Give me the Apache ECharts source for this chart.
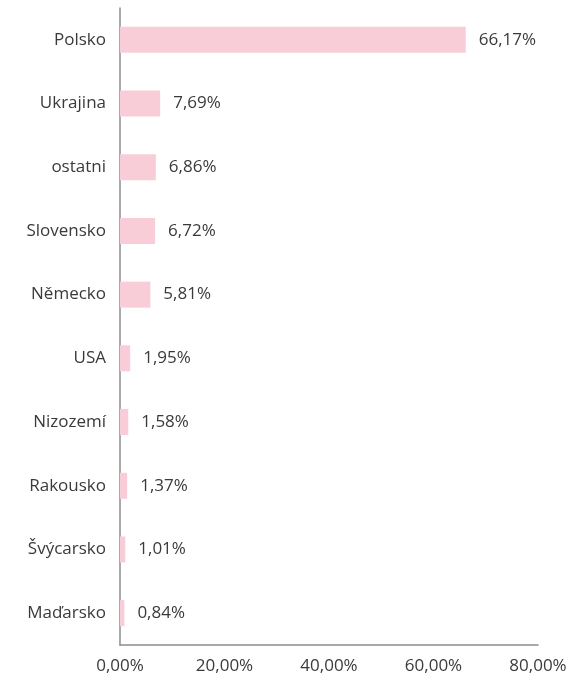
<!DOCTYPE html>
<html>
<head>
<meta charset="utf-8">
<script src="https://cdn.jsdelivr.net/npm/echarts@6/dist/echarts.min.js"></script>
<style>
  html, body { margin: 0; padding: 0; background: #fff; }
  #chart { width: 576px; height: 682px; }
</style>
</head>
<body>
<div id="chart"></div>
<script>
// Countries, listed from top to bottom
const countries = ['Polsko', 'Ukrajina', 'ostatni', 'Slovensko', 'Německo', 'USA', 'Nizozemí', 'Rakousko', 'Švýcarsko', 'Maďarsko'];
// Share in percent
const shares = [66.17, 7.69, 6.86, 6.72, 5.81, 1.95, 1.58, 1.37, 1.01, 0.84];
// X axis range and step
const axisMin = 0;
const axisMax = 80;
const axisStep = 20;

const fmt = (v, d) => v.toFixed(d).replace('.', ',') + '%';
const font = '"Open Sans", sans-serif';

const chart = echarts.init(document.getElementById('chart'));
chart.setOption({
  animation: false,
  grid: { left: 120, right: 38, top: 8, bottom: 37 },
  xAxis: {
    type: 'value',
    min: axisMin,
    max: axisMax,
    interval: axisStep,
    splitLine: { show: false },
    axisLine: { show: true, lineStyle: { color: '#8c8c8c', width: 1.5 } },
    axisTick: { show: false },
    axisLabel: {
      margin: 13,
      color: '#3a3a3a',
      fontFamily: font,
      fontSize: 17,
      formatter: v => fmt(v, 2)
    }
  },
  yAxis: {
    type: 'category',
    inverse: true,
    data: countries,
    axisLine: { show: true, lineStyle: { color: '#8c8c8c', width: 1.5 } },
    axisTick: { show: false },
    axisLabel: {
      margin: 14,
      color: '#3a3a3a',
      fontFamily: font,
      fontSize: 17
    }
  },
  series: [{
    type: 'bar',
    data: shares,
    barWidth: 26,
    itemStyle: { color: '#f8cdd7' },
    label: {
      show: true,
      position: 'right',
      distance: 13,
      color: '#3a3a3a',
      fontFamily: font,
      fontSize: 17,
      formatter: p => fmt(p.value, 2)
    }
  }]
});
</script>
</body>
</html>
